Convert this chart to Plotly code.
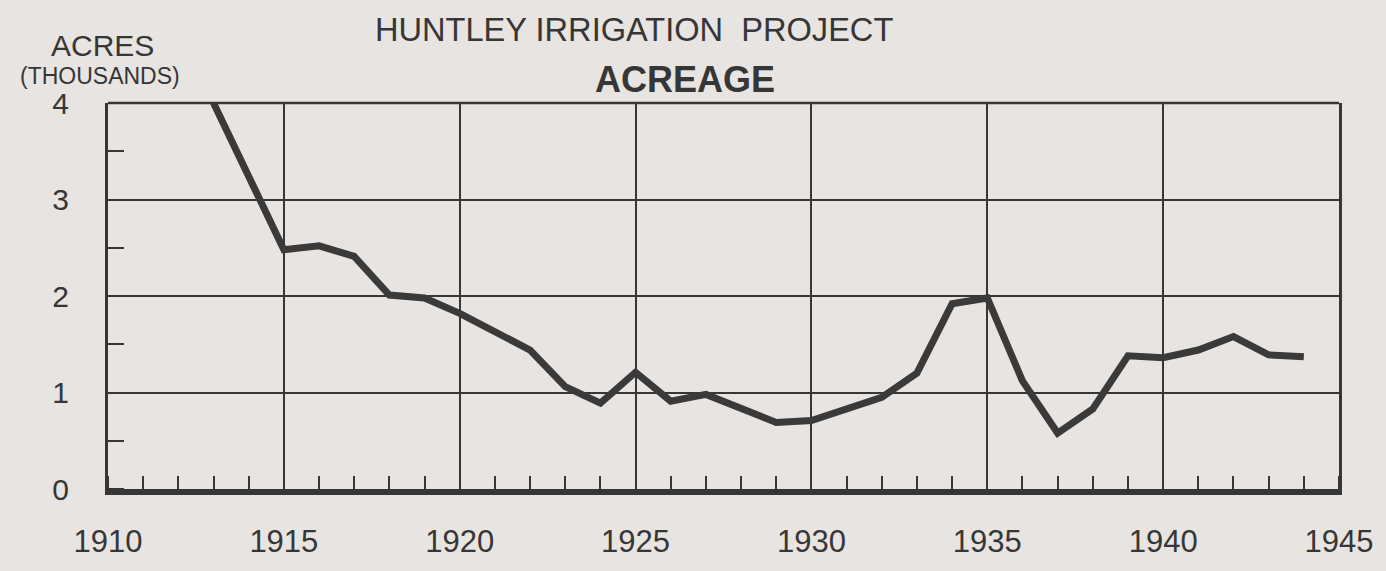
import plotly.graph_objects as go

# ---- data ----
years = list(range(1913, 1945))
acres_thousands = [4.0, 3.22, 2.48, 2.52, 2.41, 2.01, 1.98, 1.82, 1.64, 1.44,
                   1.06, 0.89, 1.21, 0.91, 0.98, 0.84, 0.69, 0.71, 0.83, 0.95,
                   1.20, 1.92, 1.98, 1.12, 0.58, 0.83, 1.38, 1.36, 1.44, 1.58,
                   1.39, 1.37]
x_tick_vals = [1910, 1915, 1920, 1925, 1930, 1935, 1940, 1945]
x_tick_text = ["1910", "1915", "1920", "1925", "1930", "1935", "1940", "1945"]
y_tick_vals = [0, 1, 2, 3, 4]
y_tick_text = ["0", "1", "2", "3", "4"]

title_top = "HUNTLEY IRRIGATION  PROJECT"
title_main = "<b>ACREAGE</b>"
y_title_1 = "ACRES"
y_title_2 = "(THOUSANDS)"

# ---- style ----
BG = "#e8e4e1"
INK = "#363636"
FONT = "Liberation Sans"
W, H = 1386, 571
L, R, T, B = 108, 47, 103, 57
PW, PH = W - L - R, H - T - B


def px(xp):
    return (xp - L) / PW


def py(yp):
    return (H - B - yp) / PH


fig = go.Figure()
fig.add_trace(go.Scatter(
    x=years, y=acres_thousands, mode="lines",
    line=dict(color="#3a3a3a", width=7),
    cliponaxis=False, hoverinfo="skip", showlegend=False,
))

fig.update_layout(
    width=W, height=H,
    margin=dict(l=L, r=R, t=T, b=B),
    paper_bgcolor=BG, plot_bgcolor=BG,
    font=dict(family=FONT, color=INK),
    xaxis=dict(
        range=[1910, 1945], tickvals=x_tick_vals, ticktext=x_tick_text,
        showgrid=True, gridcolor=INK, gridwidth=2,
        showline=True, linecolor=INK, linewidth=6,
        ticks="", ticklabelstandoff=20,
        tickfont=dict(size=31, family=FONT, color=INK),
        zeroline=False,
        minor=dict(dtick=1, tick0=1910, ticks="inside", ticklen=13,
                   tickwidth=2, tickcolor=INK, showgrid=False),
    ),
    yaxis=dict(
        range=[0, 4], tickvals=y_tick_vals, ticktext=y_tick_text,
        showgrid=True, gridcolor=INK, gridwidth=2,
        showline=True, linecolor=INK, linewidth=3, mirror=True,
        ticks="", ticklabelstandoff=30,
        tickfont=dict(size=30, family=FONT, color=INK),
        zeroline=False,
        minor=dict(dtick=0.5, tick0=0, ticks="inside", ticklen=16,
                   tickwidth=2, tickcolor=INK, showgrid=False),
    ),
    shapes=[dict(type="line", xref="paper", yref="paper", x0=0, x1=1, y0=1, y1=1,
                 line=dict(color=INK, width=2.5))],
    annotations=[
        dict(text=title_top, xref="paper", yref="paper", x=px(634), y=py(25),
             showarrow=False, font=dict(size=32.6, family=FONT, color=INK),
             xanchor="center", yanchor="middle"),
        dict(text=title_main, xref="paper", yref="paper", x=px(685), y=py(78),
             showarrow=False, font=dict(size=36, family=FONT, color=INK),
             xanchor="center", yanchor="middle"),
        dict(text=y_title_1, xref="paper", yref="paper", x=px(102), y=py(42),
             showarrow=False, font=dict(size=30, family=FONT, color=INK),
             xanchor="center", yanchor="middle"),
        dict(text=y_title_2, xref="paper", yref="paper", x=px(100), y=py(74),
             showarrow=False, font=dict(size=23, family=FONT, color=INK),
             xanchor="center", yanchor="middle"),
    ],
)

fig.write_html("out.html",
               config={"displayModeBar": False},
               post_script="document.body.style.margin='0';"
                           "document.body.style.overflow='hidden';")
